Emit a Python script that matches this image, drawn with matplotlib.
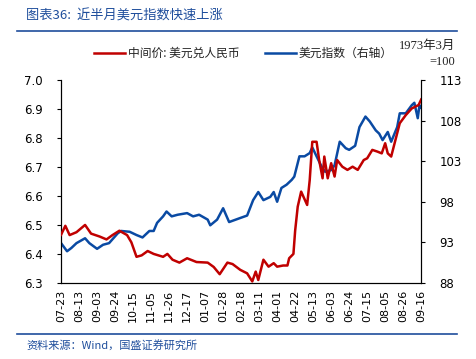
import matplotlib
matplotlib.use("Agg")
import matplotlib.pyplot as plt
import matplotlib.dates as mdates
import pandas as pd

plt.rcParams["font.family"] = ["DejaVu Sans", "Noto Sans CJK SC"]

# 中间价: 美元兑人民币 (left axis)
cny_dates = [
    "2021-07-23", "2021-07-28", "2021-08-02", "2021-08-10", "2021-08-20", "2021-08-27",
    "2021-09-06", "2021-09-14", "2021-09-21", "2021-09-29", "2021-10-08", "2021-10-13",
    "2021-10-19", "2021-10-25", "2021-11-01", "2021-11-08", "2021-11-19", "2021-11-24",
    "2021-11-30", "2021-12-08", "2021-12-17", "2021-12-28", "2022-01-10", "2022-01-17",
    "2022-01-24", "2022-02-02", "2022-02-08", "2022-02-17", "2022-02-25", "2022-03-03",
    "2022-03-07", "2022-03-10", "2022-03-16", "2022-03-22", "2022-03-28", "2022-04-01",
    "2022-04-08", "2022-04-13", "2022-04-15", "2022-04-20", "2022-04-22", "2022-04-25",
    "2022-04-29", "2022-05-06", "2022-05-09", "2022-05-12", "2022-05-17", "2022-05-20",
    "2022-05-24", "2022-05-26", "2022-05-30", "2022-06-03", "2022-06-07", "2022-06-10",
    "2022-06-16", "2022-06-22", "2022-06-28", "2022-07-04", "2022-07-11", "2022-07-15",
    "2022-07-21", "2022-07-27", "2022-08-01", "2022-08-05", "2022-08-08", "2022-08-12",
    "2022-08-16", "2022-08-22", "2022-08-29", "2022-09-05", "2022-09-09", "2022-09-13",
    "2022-09-16",
]
cny_values = [
    6.466, 6.497, 6.465, 6.475, 6.500, 6.470,
    6.460, 6.450, 6.465, 6.480, 6.465, 6.440,
    6.390, 6.395, 6.410, 6.400, 6.390, 6.400,
    6.380, 6.370, 6.385, 6.372, 6.370, 6.355,
    6.330, 6.370, 6.365, 6.345, 6.333, 6.305,
    6.339, 6.310, 6.380, 6.356, 6.368, 6.356,
    6.360, 6.360, 6.385, 6.400, 6.480, 6.563,
    6.615, 6.569, 6.655, 6.787, 6.787, 6.724,
    6.661, 6.736, 6.661, 6.713, 6.667, 6.724,
    6.701, 6.690, 6.701, 6.690, 6.724, 6.730,
    6.759, 6.753, 6.747, 6.782, 6.747, 6.736,
    6.782, 6.851, 6.879, 6.902, 6.908, 6.914,
    6.933,
]

# 美元指数 (right axis)
dxy_dates = [
    "2021-07-23", "2021-07-30", "2021-08-04", "2021-08-10", "2021-08-20", "2021-08-25",
    "2021-09-03", "2021-09-10", "2021-09-17", "2021-09-27", "2021-10-01", "2021-10-11",
    "2021-10-19", "2021-10-26", "2021-11-03", "2021-11-08", "2021-11-12", "2021-11-19",
    "2021-11-23", "2021-11-29", "2021-12-06", "2021-12-17", "2021-12-24", "2021-12-31",
    "2022-01-10", "2022-01-13", "2022-01-21", "2022-01-28", "2022-02-04", "2022-02-17",
    "2022-02-25", "2022-03-04", "2022-03-10", "2022-03-16", "2022-03-24", "2022-03-28",
    "2022-04-01", "2022-04-06", "2022-04-12", "2022-04-18", "2022-04-21", "2022-04-27",
    "2022-05-03", "2022-05-09", "2022-05-12", "2022-05-17", "2022-05-23", "2022-05-27",
    "2022-06-03", "2022-06-07", "2022-06-13", "2022-06-20", "2022-06-24", "2022-07-01",
    "2022-07-06", "2022-07-13", "2022-07-18", "2022-07-25", "2022-07-29", "2022-08-02",
    "2022-08-08", "2022-08-12", "2022-08-19", "2022-08-22", "2022-08-29", "2022-09-05",
    "2022-09-08", "2022-09-12", "2022-09-14", "2022-09-16",
]
dxy_values = [
    92.9, 91.9, 92.3, 92.9, 93.5, 92.9,
    92.2, 92.7, 92.9, 94.1, 94.4, 94.3,
    93.9, 93.6, 94.4, 94.4, 95.4, 96.2,
    96.8, 96.2, 96.4, 96.6, 96.2, 96.4,
    95.8, 95.1, 95.8, 97.2, 95.5, 96.0,
    96.3, 98.2, 99.2, 98.2, 98.6, 99.2,
    98.0, 99.7, 100.1, 100.7, 101.1, 103.6,
    103.6, 104.0, 104.7, 103.6, 102.3, 101.7,
    101.9, 102.5, 105.4, 104.6, 104.4, 104.9,
    107.2, 108.5, 107.9, 106.8, 106.4, 105.6,
    106.6, 105.4, 107.2, 108.9, 108.9, 109.9,
    110.2, 108.3, 109.9, 109.6,
]

tick_dates = pd.date_range("2021-07-23", "2022-09-16", freq="21D")

RED = "#C00000"
BLUE = "#0A4AA3"
TITLE_BLUE = "#1F4E9C"
CJK = ["Noto Sans CJK SC", "DejaVu Sans"]

fig = plt.figure(figsize=(4.77, 3.59), dpi=100)
ax = fig.add_axes([0.128, 0.212, 0.755, 0.565])
ax2 = ax.twinx()

ax.plot(pd.to_datetime(cny_dates), cny_values, color=RED, lw=1.8, zorder=3)
ax2.plot(pd.to_datetime(dxy_dates), dxy_values, color=BLUE, lw=1.8)
ax.set_zorder(ax2.get_zorder() + 1)
ax.patch.set_visible(False)

ax.set_xlim(pd.Timestamp("2021-07-23"), pd.Timestamp("2022-09-16"))
ax.set_ylim(6.3, 7.0)
ax.set_yticks([6.3, 6.4, 6.5, 6.6, 6.7, 6.8, 6.9, 7.0])
ax.set_yticklabels(["6.3", "6.4", "6.5", "6.6", "6.7", "6.8", "6.9", "7.0"])
ax2.set_ylim(88, 113)
ax2.set_yticks([88, 93, 98, 103, 108, 113])

ax.set_xticks(tick_dates)
ax.xaxis.set_major_formatter(mdates.DateFormatter("%m-%d"))
ax.tick_params(axis="x", length=0, labelsize=8, rotation=90, pad=5)
ax.tick_params(axis="y", length=3, labelsize=8.5, pad=10)
ax2.tick_params(axis="y", length=3, labelsize=8.5, pad=10)

for a in (ax, ax2):
    a.spines["top"].set_visible(False)
    for s in ("left", "right", "bottom"):
        a.spines[s].set_color("black")
        a.spines[s].set_linewidth(0.8)

# title and footer
fig.text(0.055, 0.955, "图表36:  近半月美元指数快速上涨", color=TITLE_BLUE,
         fontsize=9.5, style="italic", va="center", family=CJK)
fig.add_artist(plt.Line2D([0.036, 0.958], [0.913, 0.913], color=TITLE_BLUE, lw=1.2))
fig.add_artist(plt.Line2D([0.036, 0.958], [0.07, 0.07], color=TITLE_BLUE, lw=1.2))
fig.text(0.055, 0.038, "资料来源：Wind，国盛证券研究所", color=TITLE_BLUE,
         fontsize=8, style="italic", va="center", family=CJK)

# legend
fig.add_artist(plt.Line2D([0.197, 0.262], [0.852, 0.852], color=RED, lw=1.8))
fig.text(0.268, 0.852, "中间价: 美元兑人民币", fontsize=8.5, va="center",
         family=CJK, color="#222222")
fig.add_artist(plt.Line2D([0.556, 0.62], [0.852, 0.852], color=BLUE, lw=1.8))
fig.text(0.626, 0.852, "美元指数（右轴）", fontsize=8.5, va="center",
         family=CJK, color="#222222")
fig.text(0.955, 0.873, "1973年3月", fontsize=9, ha="right", va="center",
         family=["Liberation Serif", "Noto Sans CJK SC"], color="#222222")
fig.text(0.955, 0.828, "=100", fontsize=9, ha="right", va="center",
         family=["Liberation Serif", "Noto Sans CJK SC"], color="#222222")

fig.savefig("out.png", dpi=100)
